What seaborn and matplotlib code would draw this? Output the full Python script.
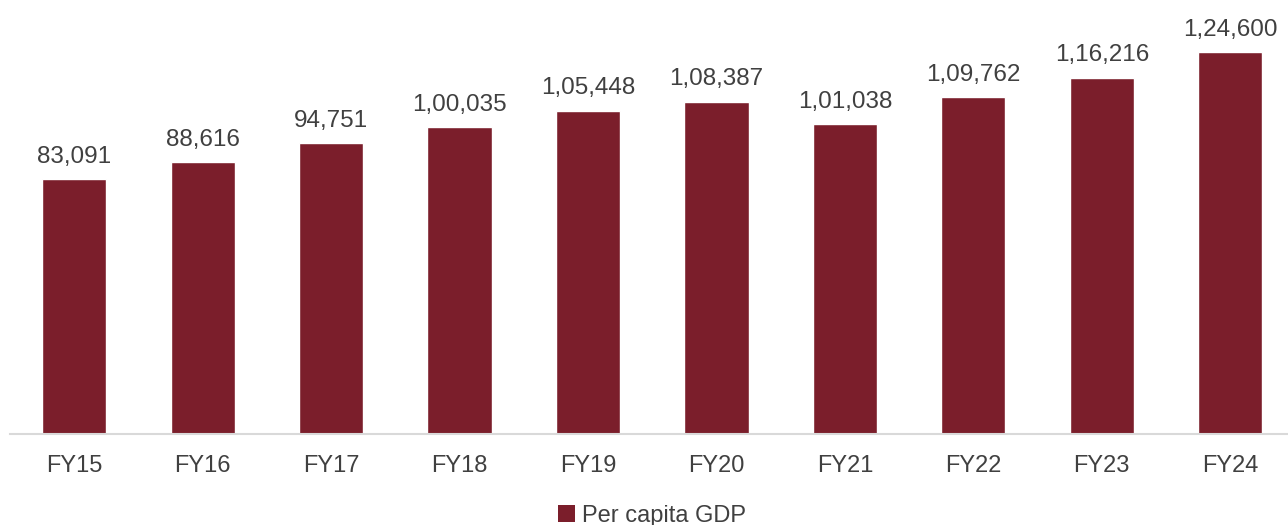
import matplotlib
matplotlib.use("Agg")
import matplotlib.pyplot as plt
import seaborn as sns
import pandas as pd
from matplotlib.patches import Patch

years = ["FY15", "FY16", "FY17", "FY18", "FY19", "FY20", "FY21", "FY22", "FY23", "FY24"]
per_capita_gdp = [83091, 88616, 94751, 100035, 105448, 108387, 101038, 109762, 116216, 124600]
value_labels = ["83,091", "88,616", "94,751", "1,00,035", "1,05,448", "1,08,387",
                "1,01,038", "1,09,762", "1,16,216", "1,24,600"]
series_name = "Per capita GDP"

bar_color = "#7B1E2B"
text_color = "#404040"

sns.set_theme(style="white")
plt.rcParams["font.family"] = ["Liberation Sans", "DejaVu Sans"]

df = pd.DataFrame({"year": years, "gdp": per_capita_gdp})

fig = plt.figure(figsize=(12.88, 5.25), dpi=100)
ax = fig.add_axes([10 / 1288, 91 / 525, 1 - 10 / 1288, 434 / 525])

sns.barplot(data=df, x="year", y="gdp", color=bar_color, width=0.5,
            saturation=1, ax=ax)

ax.bar_label(ax.containers[0], labels=value_labels, padding=8,
             fontsize=17.5, color=text_color)

ax.set_ylim(0, 141500)
ax.set_xlim(-0.5, 9.45)
ax.set_xlabel("")
ax.set_ylabel("")
ax.set_yticks([])
for side in ["top", "right", "left"]:
    ax.spines[side].set_visible(False)
ax.spines["bottom"].set_color("#d9d9d9")
ax.spines["bottom"].set_linewidth(1.5)
ax.tick_params(axis="x", length=0, pad=15, labelsize=17, labelcolor=text_color)

handle = Patch(facecolor=bar_color, edgecolor="none")
fig.legend([handle], [series_name], loc="center", bbox_to_anchor=(0.5 + 8 / 1288, 9 / 525),
           frameon=False, fontsize=17, labelcolor=text_color,
           handlelength=0.7, handleheight=0.7, handletextpad=0.3)

fig.savefig("out.png", dpi=100)
